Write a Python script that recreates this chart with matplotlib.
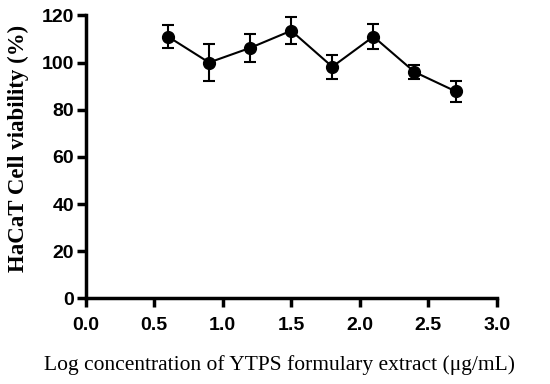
import matplotlib
matplotlib.use('Agg')
import matplotlib.pyplot as plt

# log concentration vs viability
log_conc = [0.6, 0.9, 1.2, 1.5, 1.8, 2.1, 2.4, 2.7]
viability = [111.0, 100.0, 106.2, 113.5, 98.2, 111.0, 96.0, 87.8]
sd = [4.8, 7.8, 6.1, 5.6, 5.2, 5.3, 3.0, 4.5]

fig = plt.figure(figsize=(5.5, 3.84), dpi=100)
ax = fig.add_axes([0.156, 0.223, 0.747, 0.737])

ax.errorbar(log_conc, viability, yerr=sd, color='black', marker='o',
            markersize=8.5, linewidth=1.5, elinewidth=1.5, capsize=4,
            capthick=1.5)

ax.set_xlim(0, 3.0)
ax.set_ylim(0, 120)
ax.set_xticks([0.0, 0.5, 1.0, 1.5, 2.0, 2.5, 3.0])
ax.set_xticklabels(['0.0', '0.5', '1.0', '1.5', '2.0', '2.5', '3.0'])
ax.set_yticks([0, 20, 40, 60, 80, 100, 120])

for s in ['top', 'right']:
    ax.spines[s].set_visible(False)
for s in ['left', 'bottom']:
    ax.spines[s].set_linewidth(2.5)
ax.tick_params(width=2.5, length=6.5, direction='out')
ax.tick_params(axis='x', pad=7)
ax.tick_params(axis='y', pad=2)
for lab in ax.get_xticklabels() + ax.get_yticklabels():
    lab.set_fontfamily('Liberation Sans')
    lab.set_fontweight('bold')
    lab.set_fontsize(14)

ax.set_ylabel('HaCaT Cell viability (%)', family='Liberation Serif',
              fontweight='bold', fontsize=16.5)
ax.yaxis.set_label_coords(-0.139, 0.53)
ax.set_xlabel('Log concentration of YTPS formulary extract (\u03bcg/mL)',
              family='Liberation Serif', fontsize=15.5)
ax.xaxis.set_label_coords(0.472, -0.2)

plt.savefig('out.png')
